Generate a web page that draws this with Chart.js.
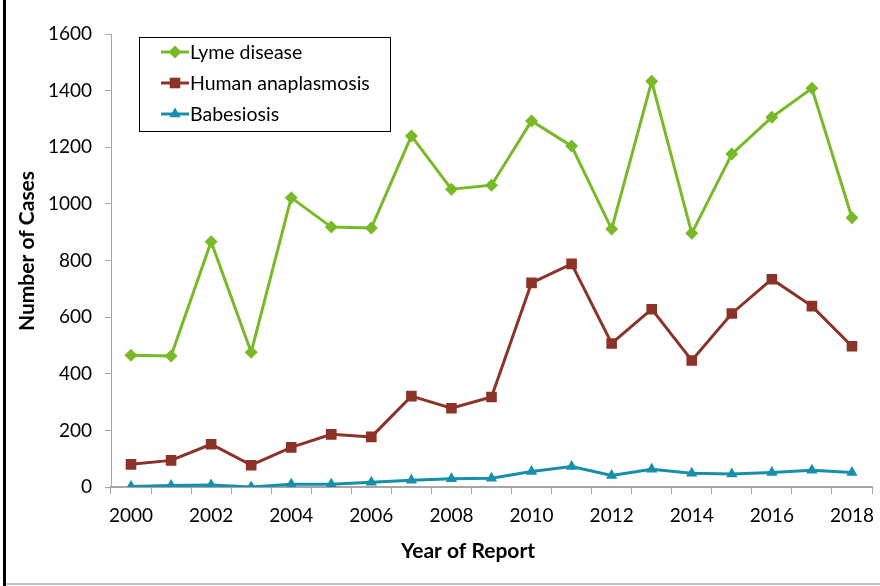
<!DOCTYPE html>
<html>
<head>
<meta charset="utf-8">
<script src="https://cdn.jsdelivr.net/npm/chart.js@4/dist/chart.umd.min.js"></script>
<style>
  html, body { margin: 0; padding: 0; background: #fff; }
  #wrap { width: 880px; height: 586px; position: relative; }
</style>
</head>
<body>
<div id="wrap"><canvas id="c" width="880" height="586"></canvas></div>
<script>
// Reported tick-borne disease cases by year
const years = ['2000','2001','2002','2003','2004','2005','2006','2007','2008','2009',
               '2010','2011','2012','2013','2014','2015','2016','2017','2018'];
const lyme = [465, 463, 866, 476, 1022, 918, 915, 1240, 1052, 1066,
              1293, 1204, 911, 1433, 896, 1176, 1306, 1408, 951];
const anaplasmosis = [80, 94, 151, 77, 140, 186, 177, 321, 278, 318,
                      721, 788, 507, 628, 447, 613, 734, 639, 497];
const babesiosis = [2, 5, 7, 0, 10, 10, 17, 24, 29, 31,
                    55, 72, 41, 63, 49, 46, 51, 59, 51];
const yTicks = [0, 200, 400, 600, 800, 1000, 1200, 1400, 1600];

const FONT = 'Lato, "Open Sans", sans-serif';
const AXIS_GREY = '#a6a6a6';

// Outer frame: heavy rule on the left, light rule along the bottom
const framePlugin = {
  id: 'frame',
  afterDraw(chart) {
    const ctx = chart.ctx;
    ctx.save();
    ctx.fillStyle = '#000';
    ctx.fillRect(3, 0, 3, 586);
    ctx.fillStyle = '#bfbfbf';
    ctx.fillRect(6, 583, 874, 2);
    ctx.restore();
  }
};

// Axis titles
const titlesPlugin = {
  id: 'axisTitles',
  afterDraw(chart) {
    const ctx = chart.ctx;
    ctx.save();
    ctx.fillStyle = '#000';
    ctx.font = 'bold 21px ' + FONT;
    ctx.textAlign = 'center';
    ctx.textBaseline = 'middle';
    ctx.fillText('Year of Report', 468, 551);
    ctx.translate(27, 251);
    ctx.rotate(-Math.PI / 2);
    ctx.fillText('Number of Cases', 0, 0);
    ctx.restore();
  }
};

// Boxed legend showing each series' line with its marker
const legendBoxPlugin = {
  id: 'legendBox',
  afterDraw(chart) {
    const ctx = chart.ctx;
    const box = { x: 139.5, y: 37.5, w: 251, h: 94 };
    ctx.save();
    ctx.fillStyle = '#fff';
    ctx.fillRect(box.x, box.y, box.w, box.h);
    ctx.strokeStyle = '#000';
    ctx.lineWidth = 1;
    ctx.strokeRect(box.x, box.y, box.w, box.h);
    const rowY = [52, 83, 114];
    chart.data.datasets.forEach((ds, i) => {
      const y = rowY[i];
      ctx.strokeStyle = ds.borderColor;
      ctx.lineWidth = 3;
      ctx.beginPath();
      ctx.moveTo(161, y);
      ctx.lineTo(189, y);
      ctx.stroke();
      ctx.fillStyle = ds.borderColor;
      Chart.helpers.drawPoint(ctx, {
        pointStyle: ds.pointStyle,
        radius: ds.pointRadius,
        borderWidth: 0,
        rotation: 0
      }, 175, y);
      ctx.fillStyle = '#000';
      ctx.font = '19.5px ' + FONT;
      ctx.textAlign = 'left';
      ctx.textBaseline = 'middle';
      ctx.fillText(ds.label, 190, y + 1);
    });
    ctx.restore();
  }
};

function series(label, data, color, style, radius) {
  return {
    label, data,
    borderColor: color,
    backgroundColor: color,
    borderWidth: 3,
    pointStyle: style,
    pointRadius: radius,
    pointHoverRadius: radius,
    pointBorderWidth: 0,
    pointBackgroundColor: color,
    tension: 0
  };
}

new Chart(document.getElementById('c'), {
  type: 'line',
  data: {
    labels: years,
    datasets: [
      series('Lyme disease', lyme, '#78b928', 'rectRot', 6.5),
      series('Human anaplasmosis', anaplasmosis, '#8c3329', 'rect', 7.5),
      series('Babesiosis', babesiosis, '#168fab', 'triangle', 6.5)
    ]
  },
  options: {
    responsive: false,
    animation: false,
    devicePixelRatio: 1,
    layout: { padding: { left: 0, top: 34, right: 8, bottom: 0 } },
    plugins: {
      legend: { display: false },
      tooltip: { enabled: false }
    },
    scales: {
      x: {
        type: 'category',
        offset: true,
        afterFit(scale) {
          scale.height = 99;
          scale.paddingLeft = 0;
          scale.paddingRight = 0;
        },
        grid: {
          offset: true,
          drawOnChartArea: false,
          drawTicks: true,
          tickLength: 7,
          color: AXIS_GREY,
          lineWidth: 1
        },
        border: { display: true, color: AXIS_GREY, width: 2 },
        ticks: {
          autoSkip: false,
          maxRotation: 0,
          padding: 10,
          color: '#000',
          font: { family: FONT, size: 19 },
          callback(value, index) { return index % 2 === 0 ? years[index] : ''; }
        }
      },
      y: {
        min: 0,
        max: 1600,
        afterFit(scale) { scale.width = 111; },
        afterBuildTicks(scale) { scale.ticks = yTicks.map(v => ({ value: v })); },
        grid: {
          drawOnChartArea: false,
          drawTicks: true,
          tickLength: 6,
          color: AXIS_GREY,
          lineWidth: 1
        },
        border: { display: true, color: AXIS_GREY, width: 1 },
        ticks: {
          padding: 13,
          color: '#000',
          font: { family: FONT, size: 19 },
          callback(value) { return String(value); }
        }
      }
    }
  },
  plugins: [framePlugin, titlesPlugin, legendBoxPlugin]
});
</script>
</body>
</html>
